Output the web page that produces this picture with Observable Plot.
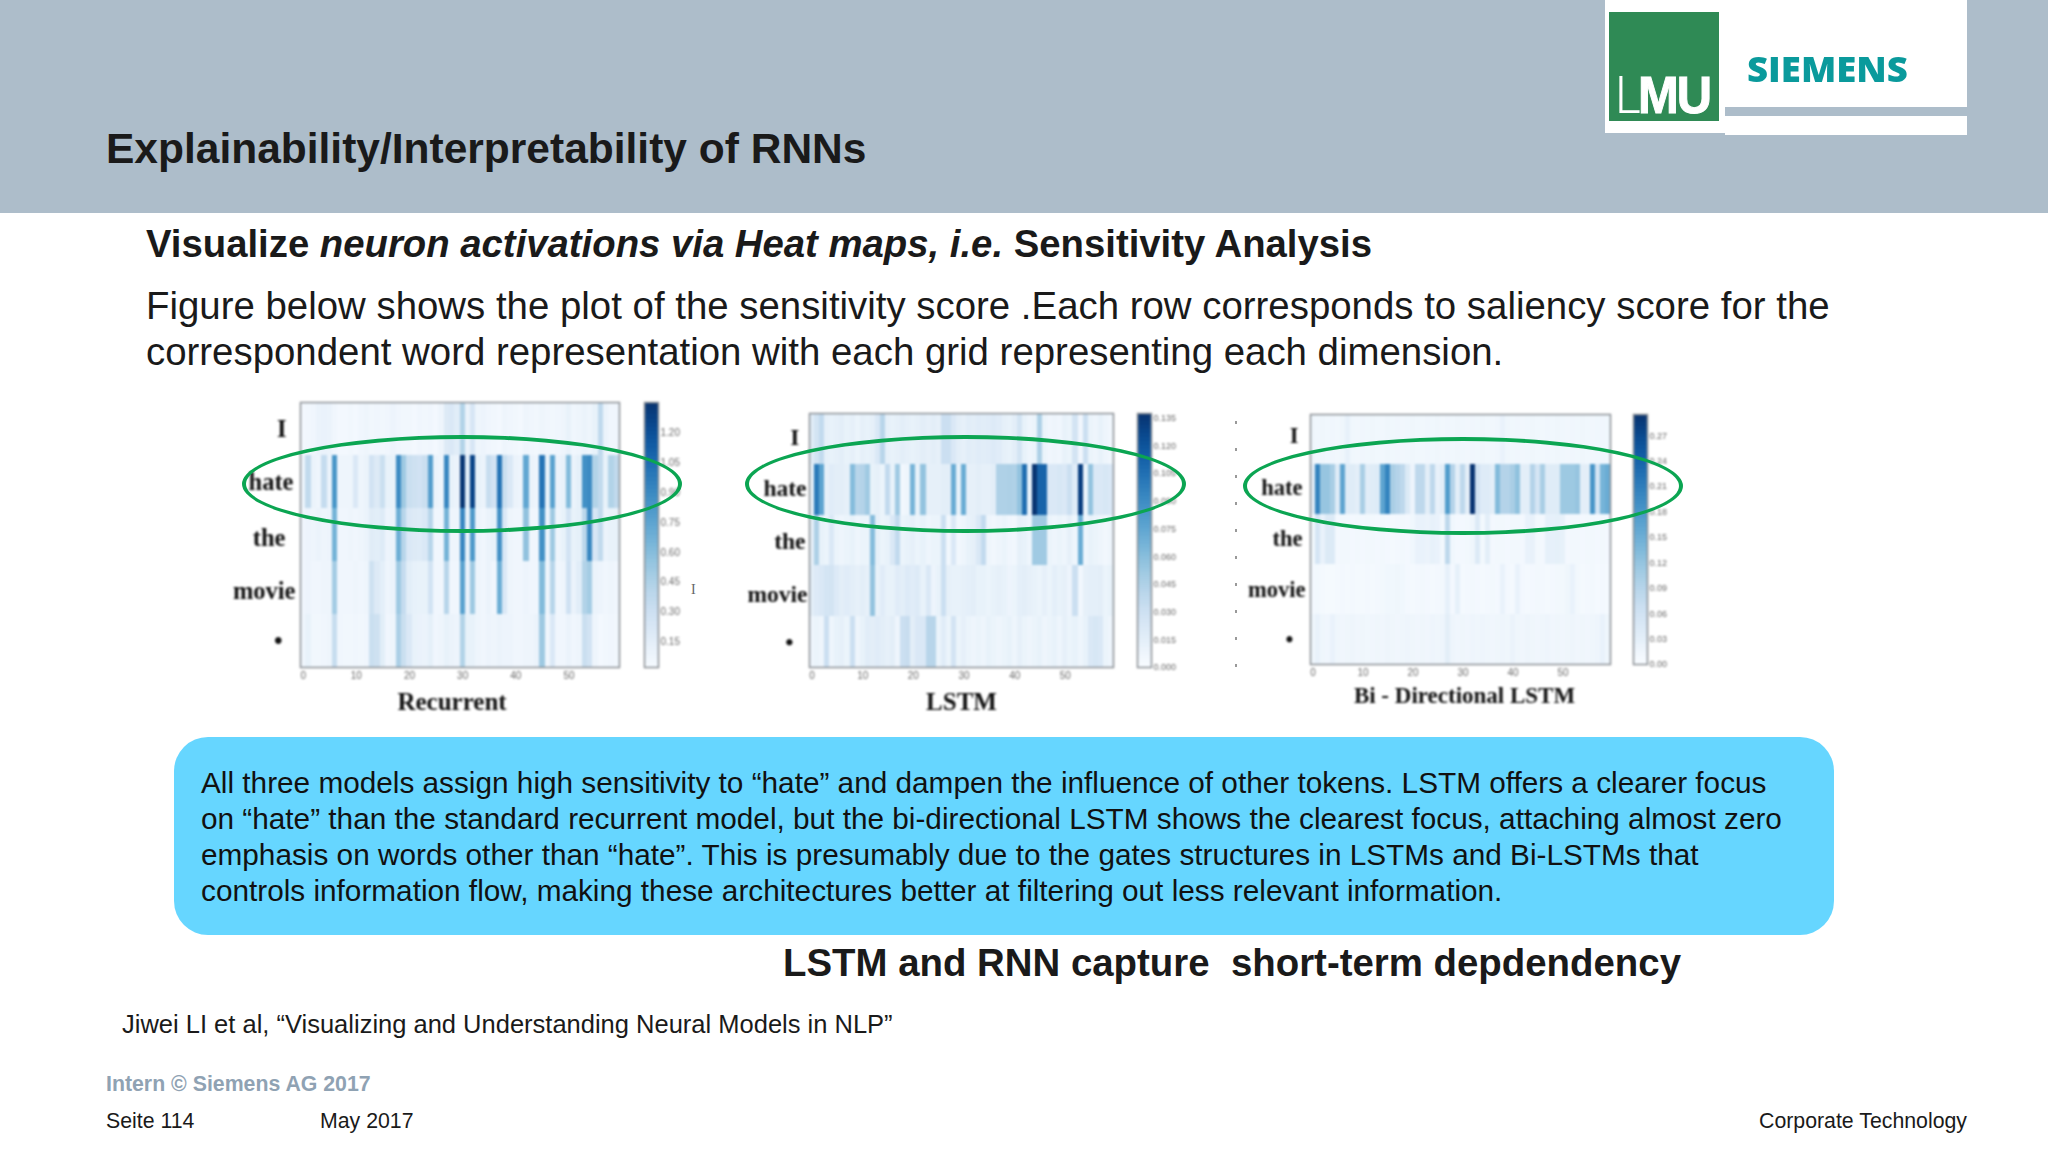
<!DOCTYPE html>
<html><head><meta charset="utf-8">
<script src="https://cdn.jsdelivr.net/npm/d3@7"></script>
<script src="https://cdn.jsdelivr.net/npm/@observablehq/plot@0.6"></script>
<style>
html,body{margin:0;padding:0;background:#fff}
#page{position:relative;width:2048px;height:1151px;overflow:hidden;background:#fff;font-family:"Liberation Sans",Arial,sans-serif;color:#1a1a1a}
#page>div{position:absolute;white-space:nowrap}
.panel{filter:blur(0.8px)}
.panel svg{display:block;overflow:visible}
.ell{border:4.5px solid #0ba552;border-radius:50%;box-sizing:border-box;pointer-events:none}
</style></head><body>
<div id="page"></div>
<script>
const words = ["I","hate","the","movie","•"];
const columns = d3.range(60);
const xTicks = [0,10,20,30,40,50];

const rnnI = [.03,.04,.05,.08,.09,.08,.05,.03,.03,.04,.03,.05,.06,.04,.05,.04,.05,.07,.05,.04,.04,.03,.05,.04,.05,.03,.06,.18,.2,.15,.42,.08,.22,.06,.07,.05,.04,.03,.06,.05,.04,.03,.06,.05,.04,.06,.05,.04,.05,.06,.1,.05,.06,.08,.06,.1,.36,.08,.05,.05];
const rnnHate = [.06,.35,.08,.06,.33,.08,.82,.06,.06,.06,.2,.06,.08,.25,.18,.3,.1,.1,.88,.5,.3,.28,.26,.3,.78,.08,.06,.9,.1,.08,1.32,.15,1.25,.1,.08,.32,.25,1.0,.3,.2,.08,.07,.72,.08,.07,1.0,.1,.75,.08,.1,.6,.08,.12,.85,.88,.42,.35,.1,.42,.35];
const rnnThe = [.05,.07,.06,.08,.06,.07,.65,.05,.05,.06,.05,.06,.08,.16,.14,.17,.07,.08,.68,.4,.2,.18,.17,.2,.4,.05,.05,.65,.06,.06,.9,.1,.8,.07,.05,.08,.1,.85,.2,.06,.05,.05,.55,.05,.05,.85,.07,.5,.06,.1,.25,.1,.12,.38,.9,.22,.35,.08,.1,.1];
const rnnMovie = [.05,.07,.05,.05,.06,.06,.48,.05,.05,.05,.06,.05,.06,.28,.18,.13,.06,.08,.5,.33,.14,.11,.1,.1,.25,.05,.05,.4,.05,.05,.75,.09,.5,.06,.05,.08,.05,.68,.2,.06,.05,.05,.07,.05,.05,.6,.06,.4,.05,.06,.27,.08,.15,.42,.48,.08,.07,.05,.06,.05];
const rnnDot = [.05,.1,.04,.04,.05,.06,.32,.05,.04,.04,.05,.04,.05,.3,.28,.14,.05,.06,.45,.3,.2,.1,.09,.08,.12,.05,.06,.1,.08,.07,.42,.1,.1,.06,.05,.07,.06,.08,.07,.07,.05,.05,.06,.06,.08,.5,.05,.2,.05,.05,.08,.05,.06,.3,.25,.06,.03,.04,.05,.04];

const lstmI = [.015,.025,.035,.012,.01,.012,.014,.01,.012,.008,.012,.01,.012,.02,.04,.012,.01,.012,.014,.012,.01,.012,.014,.012,.014,.012,.03,.03,.02,.014,.012,.015,.014,.016,.015,.016,.018,.016,.012,.01,.014,.025,.01,.006,.008,.045,.008,.005,.006,.005,.01,.008,.025,.005,.03,.008,.006,.01,.006,.004];
const lstmHate = [.01,.098,.075,.012,.016,.014,.014,.012,.06,.04,.042,.05,.01,.012,.008,.035,.01,.05,.004,.006,.065,.01,.055,.012,.012,.012,.014,.014,.07,.01,.07,.012,.012,.014,.012,.012,.014,.044,.044,.045,.044,.055,.105,.01,.135,.11,.11,.02,.02,.022,.02,.03,.016,.13,.008,.055,.02,.02,.022,.02];
const lstmThe = [.012,.045,.01,.008,.02,.008,.006,.008,.01,.006,.008,.008,.06,.012,.008,.01,.02,.035,.008,.01,.012,.008,.01,.006,.008,.008,.03,.004,.02,.004,.006,.01,.012,.02,.035,.006,.004,.006,.008,.005,.004,.012,.01,.006,.05,.05,.05,.008,.006,.008,.006,.012,.006,.07,.006,.01,.008,.006,.004,.006];
const lstmMovie = [.014,.018,.02,.024,.025,.018,.014,.016,.014,.012,.014,.012,.055,.01,.016,.01,.01,.016,.014,.018,.016,.018,.01,.02,.007,.01,.03,.012,.01,.01,.012,.013,.014,.01,.01,.008,.01,.012,.01,.007,.008,.013,.014,.012,.01,.008,.012,.008,.013,.01,.012,.007,.03,.004,.012,.013,.013,.014,.008,.01];
const lstmDot = [.006,.008,.006,.03,.006,.01,.012,.008,.03,.006,.01,.015,.014,.016,.014,.012,.014,.006,.03,.032,.014,.02,.02,.04,.04,.008,.016,.008,.025,.008,.012,.008,.006,.008,.006,.01,.008,.006,.008,.01,.006,.012,.008,.006,.008,.01,.006,.008,.01,.006,.012,.008,.01,.006,.01,.02,.022,.02,.008,.006];

const biI = [.012,.01,.012,.01,.011,.009,.012,.024,.01,.009,.011,.01,.012,.01,.009,.012,.01,.011,.009,.01,.012,.01,.009,.011,.01,.012,.009,.011,.01,.012,.01,.009,.011,.01,.012,.01,.009,.011,.02,.012,.01,.011,.009,.01,.012,.01,.009,.011,.01,.012,.01,.009,.011,.01,.012,.01,.009,.01,.011,.01];
const biHate = [.03,.2,.115,.115,.1,.037,.16,.035,.035,.03,.1,.032,.035,.038,.16,.2,.1,.09,.08,.04,.015,.08,.08,.03,.08,.022,.03,.17,.09,.03,.08,.03,.29,.055,.037,.037,.03,.13,.09,.09,.1,.12,.03,.03,.09,.05,.1,.035,.035,.035,.11,.11,.11,.115,.03,.03,.18,.05,.14,.15];
const biThe = [.008,.05,.02,.04,.04,.006,.007,.008,.006,.007,.006,.008,.007,.006,.008,.006,.004,.006,.008,.006,.01,.02,.02,.018,.024,.02,.008,.08,.01,.006,.006,.008,.012,.04,.008,.03,.006,.007,.008,.006,.007,.008,.006,.02,.022,.008,.006,.025,.025,.026,.024,.006,.007,.008,.006,.007,.008,.006,.007,.006];
const biMovie = [.006,.007,.004,.003,.003,.005,.006,.005,.006,.004,.005,.006,.005,.006,.007,.01,.01,.012,.01,.006,.005,.006,.007,.006,.005,.006,.007,.025,.006,.025,.005,.006,.007,.006,.005,.006,.007,.006,.02,.006,.005,.02,.006,.005,.006,.007,.006,.005,.006,.007,.008,.012,.02,.008,.005,.006,.007,.005,.006,.005];
const biDot = [.012,.02,.012,.011,.02,.012,.011,.012,.013,.011,.012,.01,.011,.012,.011,.013,.012,.011,.012,.014,.012,.011,.012,.011,.013,.012,.014,.03,.013,.011,.012,.011,.013,.012,.014,.012,.011,.012,.013,.012,.018,.012,.011,.013,.012,.011,.012,.013,.011,.012,.011,.012,.013,.011,.012,.011,.012,.013,.02,.012];

const rnnTicks = [.15,.3,.45,.6,.75,.9,1.05,1.2];
const lstmTicks = [0,.015,.03,.045,.06,.075,.09,.105,.12,.135];
const biTicks = [0,.03,.06,.09,.12,.15,.18,.21,.24,.27];

const page = document.getElementById("page");
function box(css, text, html){
  const d = document.createElement("div");
  d.style.cssText = css;
  if (html) d.innerHTML = html; else if (text) d.textContent = text;
  page.appendChild(d);
  return d;
}

// Header
box("left:0;top:0;width:2048px;height:213px;background:#adbdca");
box("left:106px;top:125px;font:bold 42.5px 'Liberation Sans';color:#1a1a1a","Explainability/Interpretability of RNNs");
box("left:1605px;top:0;width:120px;height:133px;background:#fff");
box("left:1725px;top:0;width:242px;height:107px;background:#fff");
box("left:1725px;top:116px;width:242px;height:19px;background:#fff");
box("left:1609px;top:12px;width:110px;height:109px;background:#2f8a55");
box("left:1615px;top:65px;height:60px;color:#fff;font:bold 52px 'Liberation Sans';letter-spacing:-2px;line-height:60px;-webkit-text-stroke:1px #fff;transform:scaleX(.94);transform-origin:0 0","",
  '<span style="font:300 52px Roboto;letter-spacing:-3px;-webkit-text-stroke:0">L</span>MU');
box("left:1747px;top:45px;font:800 34.5px 'Open Sans';color:#0a9a9c;transform:scaleX(1.06);transform-origin:0 0","SIEMENS");

// Text
box("left:146px;top:222px;font:bold 38.3px 'Liberation Sans'","",'Visualize <i>neuron activations via Heat maps, i.e.</i> Sensitivity Analysis');
box("left:146px;top:283px;font:38.4px/46px 'Liberation Sans'","",'Figure below shows the plot of the sensitivity score .Each row corresponds to saliency score for the<br>correspondent word representation with each grid representing each dimension.');
box("left:174px;top:737px;width:1660px;height:198px;background:#66d6ff;border-radius:34px");
box("left:201px;top:765px;font:29.75px/36px 'Liberation Sans';color:#111","",'All three models assign high sensitivity to “hate” and dampen the influence of other tokens. LSTM offers a clearer focus<br>on “hate” than the standard recurrent model, but the bi-directional LSTM shows the clearest focus, attaching almost zero<br>emphasis on words other than “hate”. This is presumably due to the gates structures in LSTMs and Bi-LSTMs that<br>controls information flow, making these architectures better at filtering out less relevant information.');
box("left:783px;top:941px;font:bold 38.4px 'Liberation Sans';white-space:pre","LSTM and RNN capture  short-term depdendency");
box("left:122px;top:1010px;font:25.5px 'Liberation Sans'","Jiwei LI et al, “Visualizing and Understanding Neural Models in NLP”");
box("left:106px;top:1072px;font:bold 21.3px 'Liberation Sans';color:#8fa2b3","Intern © Siemens AG 2017");
box("left:106px;top:1109px;font:21.3px 'Liberation Sans'","Seite 114");
box("left:320px;top:1109px;font:21.3px 'Liberation Sans'","May 2017");
box("right:81px;top:1109px;font:21.3px 'Liberation Sans'","Corporate Technology");

// Heat maps
function heatmap(p){
  const mL = 110, mR = 6, mT = 4, mB = 60;
  const rowsData = words.flatMap((w,r) => columns.map(c => ({w, c, v: p.rows[r][c]})));
  const chart = Plot.plot({
    width: p.w + mL + mR, height: p.h + mT + mB,
    marginLeft: mL, marginRight: mR, marginTop: mT, marginBottom: mB,
    style: {background:"transparent", fontFamily:"'Liberation Sans'"},
    x: {type:"band", domain: columns, padding:0, round:false, axis:null},
    y: {type:"band", domain: words, padding:0, round:false, axis:null},
    color: {type:"linear", scheme:"Blues", domain:[0,p.max]},
    marks: [
      Plot.cell(rowsData, {x:"c", y:"w", fill:"v", inset:0, shapeRendering:"crispEdges"}),
      Plot.frame({stroke:"#8a8f94", strokeWidth:1.5}),
      Plot.axisX(xTicks, {anchor:"bottom", tickSize:0, tickPadding:4, fontSize:10, fill:"#6a6a6a", label:null}),
      ...words.map((w,i) => Plot.text([w], {y:d=>d, frameAnchor:"left", textAnchor:"end", dx:-p.wordInset[i], dy:p.wordDy[i], fontSize:p.wordFont, fontWeight:"bold", fontFamily:"'Liberation Serif'", fill:"#111"})),
      Plot.text([p.label], {frameAnchor:"bottom", dy:p.labelDy, dx:p.labelDx, fontSize:p.labelFont, fontWeight:"bold", fontFamily:"'Liberation Serif'", fill:"#111"})
    ]
  });
  const holder = box(`left:${p.x-mL}px;top:${p.y-mT}px`);
  holder.className = "panel";
  holder.appendChild(chart);

  const ramp = d3.range(0, 64).map(i => p.barMin + (p.max-p.barMin)*i/64);
  const step = (p.max-p.barMin)/64;
  const bar = Plot.plot({
    width: p.barW + 40, height: p.h + 8,
    marginLeft: 0, marginRight: 40, marginTop: 4, marginBottom: 4,
    style: {background:"transparent", fontFamily:"'Liberation Sans'"},
    x: {axis:null},
    y: {type:"linear", domain:[p.barMin,p.max], axis:null, round:false},
    color: {type:"linear", scheme:"Blues", domain:[0,p.max]},
    marks: [
      Plot.rectY(ramp, {y1:d=>d, y2:d=>d+step, fill:d=>d, shapeRendering:"crispEdges"}),
      Plot.frame({stroke:"#8a8f94", strokeWidth:1.5}),
      Plot.axisY(p.ticks, {anchor:"right", tickSize:0, tickPadding:2, fontSize:p.tickFont, fill:"#6a6a6a", label:null, tickFormat:d3.format(p.fmt)})
    ]
  });
  const bh = box(`left:${p.barX}px;top:${p.y-4}px`);
  bh.className = "panel";
  bh.appendChild(bar);
  box(`left:${p.ell[0]}px;top:${p.ell[1]}px;width:${p.ell[2]}px;height:${p.ell[3]}px`).className = "ell";
}

heatmap({label:"Recurrent", rows:[rnnI,rnnHate,rnnThe,rnnMovie,rnnDot], x:300, y:402, w:319, h:265, max:1.355, barMin:0.02, ticks:rnnTicks, fmt:".2f", tickFont:10, barX:644, barW:14, labelDx:-8, labelDy:42, labelFont:25, wordFont:24.5, wordInset:[14,7,15,5,18], wordDy:[0,0,3,3,0], ell:[242,435,440,98]});
heatmap({label:"LSTM", rows:[lstmI,lstmHate,lstmThe,lstmMovie,lstmDot], x:809, y:413, w:304, h:254, max:.1375, barMin:0, ticks:lstmTicks, fmt:".3f", tickFont:9, barX:1137, barW:14, labelDx:0, labelDy:42, labelFont:25, wordFont:23.5, wordInset:[10,3,4,2,16], wordDy:[-1,-1,1,3,0], ell:[745,435,441,98]});
heatmap({label:"Bi - Directional LSTM", rows:[biI,biHate,biThe,biMovie,biDot], x:1310, y:414, w:300, h:250, max:.295, barMin:0, ticks:biTicks, fmt:".2f", tickFont:9, barX:1633, barW:14, labelDx:4, labelDy:38, labelFont:23, wordFont:22.5, wordInset:[12,8,8,5,17], wordDy:[-4,-2,-1,0,0], ell:[1243,437,440,98]});

// Stray marks of the source figure
box("left:691px;top:582px;font:14px 'Liberation Serif';color:#666","I");
box("left:1235px;top:421px;width:2px;height:246px;background:repeating-linear-gradient(to bottom,#999 0 3px,transparent 3px 27px)");
</script>
</body></html>
